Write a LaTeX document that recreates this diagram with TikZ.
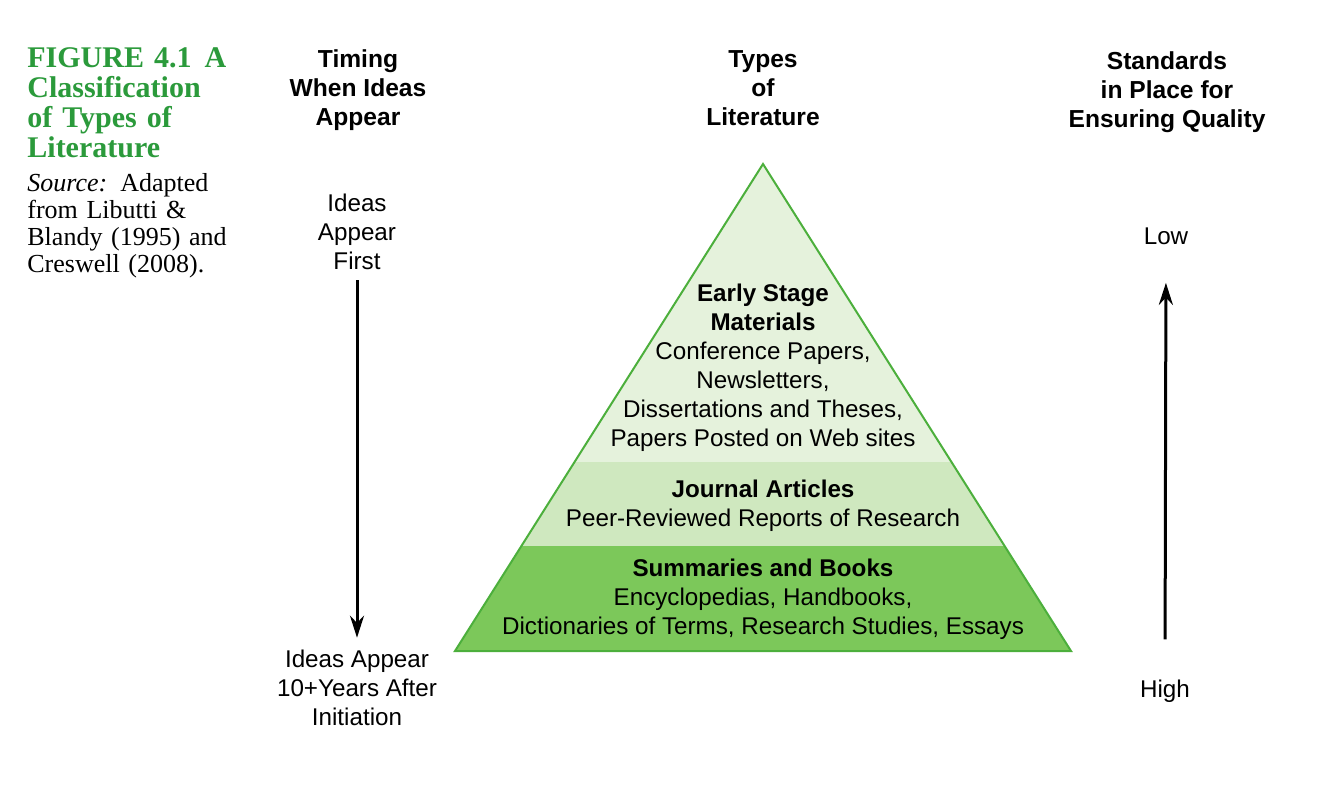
\documentclass[tikz,border=0pt]{standalone}
\usepackage{fontspec}
\setmainfont{Liberation Sans}
\newfontfamily\capfont{Liberation Serif}
\usetikzlibrary{arrows.meta}

\begin{document}
\begin{tikzpicture}[
  x=0.5pt, y=-0.5pt,
  font=\fontsize{12.1}{14.5}\selectfont,
  >={Stealth[length=11pt, width=7pt]},
  txt/.style={align=center, inner sep=0pt},
  head/.style={txt, font=\fontsize{12.3}{14.5}\selectfont\bfseries},
  capt/.style={anchor=west, inner sep=0pt, text width=#1, align=left},
  timeline/.style={->, line width=1.5pt, black},
]
\definecolor{capgreen}{HTML}{2B9A3B}
\definecolor{bandtop}{HTML}{E5F2DC}
\definecolor{bandmid}{HTML}{CFE8BF}
\definecolor{bandlow}{HTML}{7CC85A}
\definecolor{pyrline}{HTML}{4CAF3C}

\useasboundingbox (0,0) rectangle (1332,802);

% ---- caption ----
\node[capt=99.5pt, text=capgreen, font=\capfont\fontsize{15}{15}\selectfont\bfseries] (fig) at (27,103)
  {FIGURE 4.1\hfill A\\Classification\\of Types of\\Literature};
\node[capt=115pt, font=\capfont\fontsize{13}{13.5}\selectfont] (src) at (27,226)
  {\textit{Source:} Adapted\\from Libutti \&\\Blandy (1995) and\\Creswell (2008).};

% ---- column heads ----
\node[head] (timing) at (358,90) {Timing\\When Ideas\\Appear};
\node[head] (types) at (763,88) {Types\\of\\Literature};
\node[head] (stds) at (1167,92) {Standards\\in Place for\\Ensuring Quality};

% ---- pyramid ----
\coordinate (apex) at (763,164);
\coordinate (bl) at (455,651);
\coordinate (br) at (1071,651);
\begin{scope}
  \clip (apex) -- (bl) -- (br) -- cycle;
  \fill[bandtop] (440,150) rectangle (1090,462);
  \fill[bandmid] (440,462) rectangle (1090,546);
  \fill[bandlow] (440,546) rectangle (1090,660);
\end{scope}
\draw[pyrline, line width=1pt, line join=miter] (apex) -- (bl) -- (br) -- cycle;

\node[txt] (early) at (763,368) {\textbf{Early Stage}\\\textbf{Materials}\\Conference Papers,\\Newsletters,\\Dissertations and Theses,\\Papers Posted on Web sites};
\node[txt] (journal) at (763,506) {\textbf{Journal Articles}\\Peer-Reviewed Reports of Research};
\node[txt] (summ) at (763,599) {\textbf{Summaries and Books}\\Encyclopedias, Handbooks,\\Dictionaries of Terms, Research Studies, Essays};

% ---- timing axis ----
\node[txt] (first) at (357,232) {Ideas\\Appear\\First};
\node[txt] (later) at (357,688) {Ideas Appear\\10+Years After\\Initiation};
\draw[timeline, shorten <=5pt, shorten >=6pt] (first.south) -- (later.north);

% ---- quality axis ----
\node[txt] (low) at (1166,236) {Low};
\node[txt] (high) at (1165,691) {High};
\draw[timeline, shorten <=20pt, shorten >=19pt] (high.north) -- (low.south);
\end{tikzpicture}
\end{document}
